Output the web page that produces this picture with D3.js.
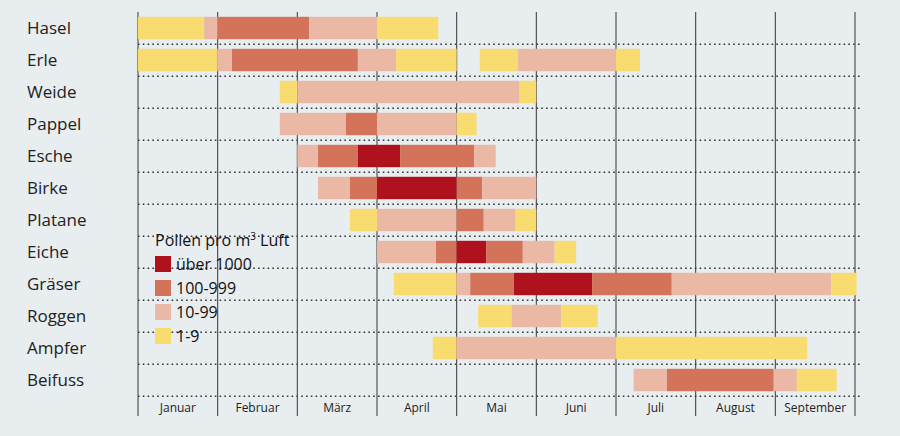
<!DOCTYPE html>
<html><head><meta charset="utf-8">
<script src="https://cdn.jsdelivr.net/npm/d3@7"></script>
<style>body{margin:0;background:#e8edef;font-family:"Open Sans",sans-serif;}</style>
</head><body>
<script>
var plants = ["Hasel","Erle","Weide","Pappel","Esche","Birke","Platane","Eiche","Gräser","Roggen","Ampfer","Beifuss"];
var months = ["Januar","Februar","März","April","Mai","Juni","Juli","August","September"];
var levels = ["über 1000","100-999","10-99","1-9"];
var levelColors = ["#b0111f","#d2735a","#ebb8a5","#f9dc6f"];
// segments: [plant, start month, end month, level index]
var segments = [
  ["Hasel",0,0.83,3],["Hasel",0.83,1,2],["Hasel",1,2.15,1],["Hasel",2.15,3,2],["Hasel",3,3.77,3],
  ["Erle",0,1,3],["Erle",1,1.18,2],["Erle",1.18,2.76,1],["Erle",2.76,3.24,2],["Erle",3.24,4,3],
  ["Erle",4.29,4.77,3],["Erle",4.77,6,2],["Erle",6,6.3,3],
  ["Weide",1.78,2,3],["Weide",2,4.79,2],["Weide",4.79,5,3],
  ["Pappel",1.78,2.61,2],["Pappel",2.61,3,1],["Pappel",3,4,2],["Pappel",4,4.25,3],
  ["Esche",2,2.26,2],["Esche",2.26,2.76,1],["Esche",2.76,3.29,0],["Esche",3.29,4.22,1],["Esche",4.22,4.49,2],
  ["Birke",2.26,2.66,2],["Birke",2.66,3,1],["Birke",3,4,0],["Birke",4,4.32,1],["Birke",4.32,5,2],
  ["Platane",2.66,3,3],["Platane",3,4,2],["Platane",4,4.34,1],["Platane",4.34,4.74,2],["Platane",4.74,5,3],
  ["Eiche",3,3.74,2],["Eiche",3.74,4,1],["Eiche",4,4.37,0],["Eiche",4.37,4.83,1],["Eiche",4.83,5.23,2],["Eiche",5.23,5.5,3],
  ["Gräser",3.21,4,3],["Gräser",4,4.17,2],["Gräser",4.17,4.72,1],["Gräser",4.72,5.7,0],["Gräser",5.7,6.7,1],["Gräser",6.7,8.7,2],["Gräser",8.7,9.02,3],
  ["Roggen",4.27,4.69,3],["Roggen",4.69,5.31,2],["Roggen",5.31,5.77,3],
  ["Ampfer",3.7,4,3],["Ampfer",4,6,2],["Ampfer",6,8.4,3],
  ["Beifuss",6.22,6.64,2],["Beifuss",6.64,7.98,1],["Beifuss",7.98,8.27,2],["Beifuss",8.27,8.77,3]
];

var width = 900, height = 436;
var svg = d3.select("body").append("svg").attr("width", width).attr("height", height);
var x = d3.scaleLinear().domain([0, 9]).range([138, 855]);
var y = d3.scaleBand().domain(plants).range([12, 396]).paddingInner(0.3).paddingOuter(0.15);

// dotted row lines
svg.selectAll("line.row").data(plants).enter().append("line")
    .attr("x1", 138).attr("x2", 862)
    .attr("y1", function(d){ return y(d) + y.bandwidth() + 5; })
    .attr("y2", function(d){ return y(d) + y.bandwidth() + 5; })
    .style("stroke", "#333").style("stroke-width", 1.6).style("stroke-dasharray", "1.6,3.2");

// month lines
svg.selectAll("line.month").data(d3.range(0, 10)).enter().append("line")
    .attr("x1", function(d){ return x(d); }).attr("x2", function(d){ return x(d); })
    .attr("y1", 12).attr("y2", 416)
    .style("stroke", "#444").style("stroke-width", 1.1);

svg.selectAll("rect.seg").data(segments).enter().append("rect")
    .attr("x", function(d){ return x(d[1]); })
    .attr("width", function(d){ return x(d[2]) - x(d[1]); })
    .attr("y", function(d){ return y(d[0]); })
    .attr("height", y.bandwidth())
    .style("fill", function(d){ return levelColors[d[3]]; });

svg.selectAll("text.plant").data(plants).enter().append("text")
    .attr("x", 27).attr("y", function(d){ return y(d) + y.bandwidth()/2 + 6; })
    .style("font-size", "17px").style("fill", "#222").text(function(d){ return d; });

svg.selectAll("text.month").data(months).enter().append("text")
    .attr("x", function(d, i){ return x(i + 0.5); }).attr("y", 412)
    .attr("text-anchor", "middle").style("font-size", "12px").style("fill", "#222")
    .text(function(d){ return d; });

// legend
var legend = svg.append("g").attr("transform", "translate(155,0)");
var title = legend.append("text").attr("x", 0).attr("y", 246).style("font-size", "16px").style("fill", "#111");
title.append("tspan").text("Pollen pro m");
title.append("tspan").attr("dy", -6).style("font-size", "10px").text("3");
title.append("tspan").attr("dy", 6).text(" Luft");
var li = legend.selectAll("g.item").data(levels).enter().append("g")
    .attr("transform", function(d, i){ return "translate(0," + (256 + i * 24) + ")"; });
li.append("rect").attr("width", 16).attr("height", 16)
    .style("fill", function(d, i){ return levelColors[i]; });
li.append("text").attr("x", 21).attr("y", 14).style("font-size", "16px").style("fill", "#111")
    .text(function(d){ return d; });
</script>
</body></html>
